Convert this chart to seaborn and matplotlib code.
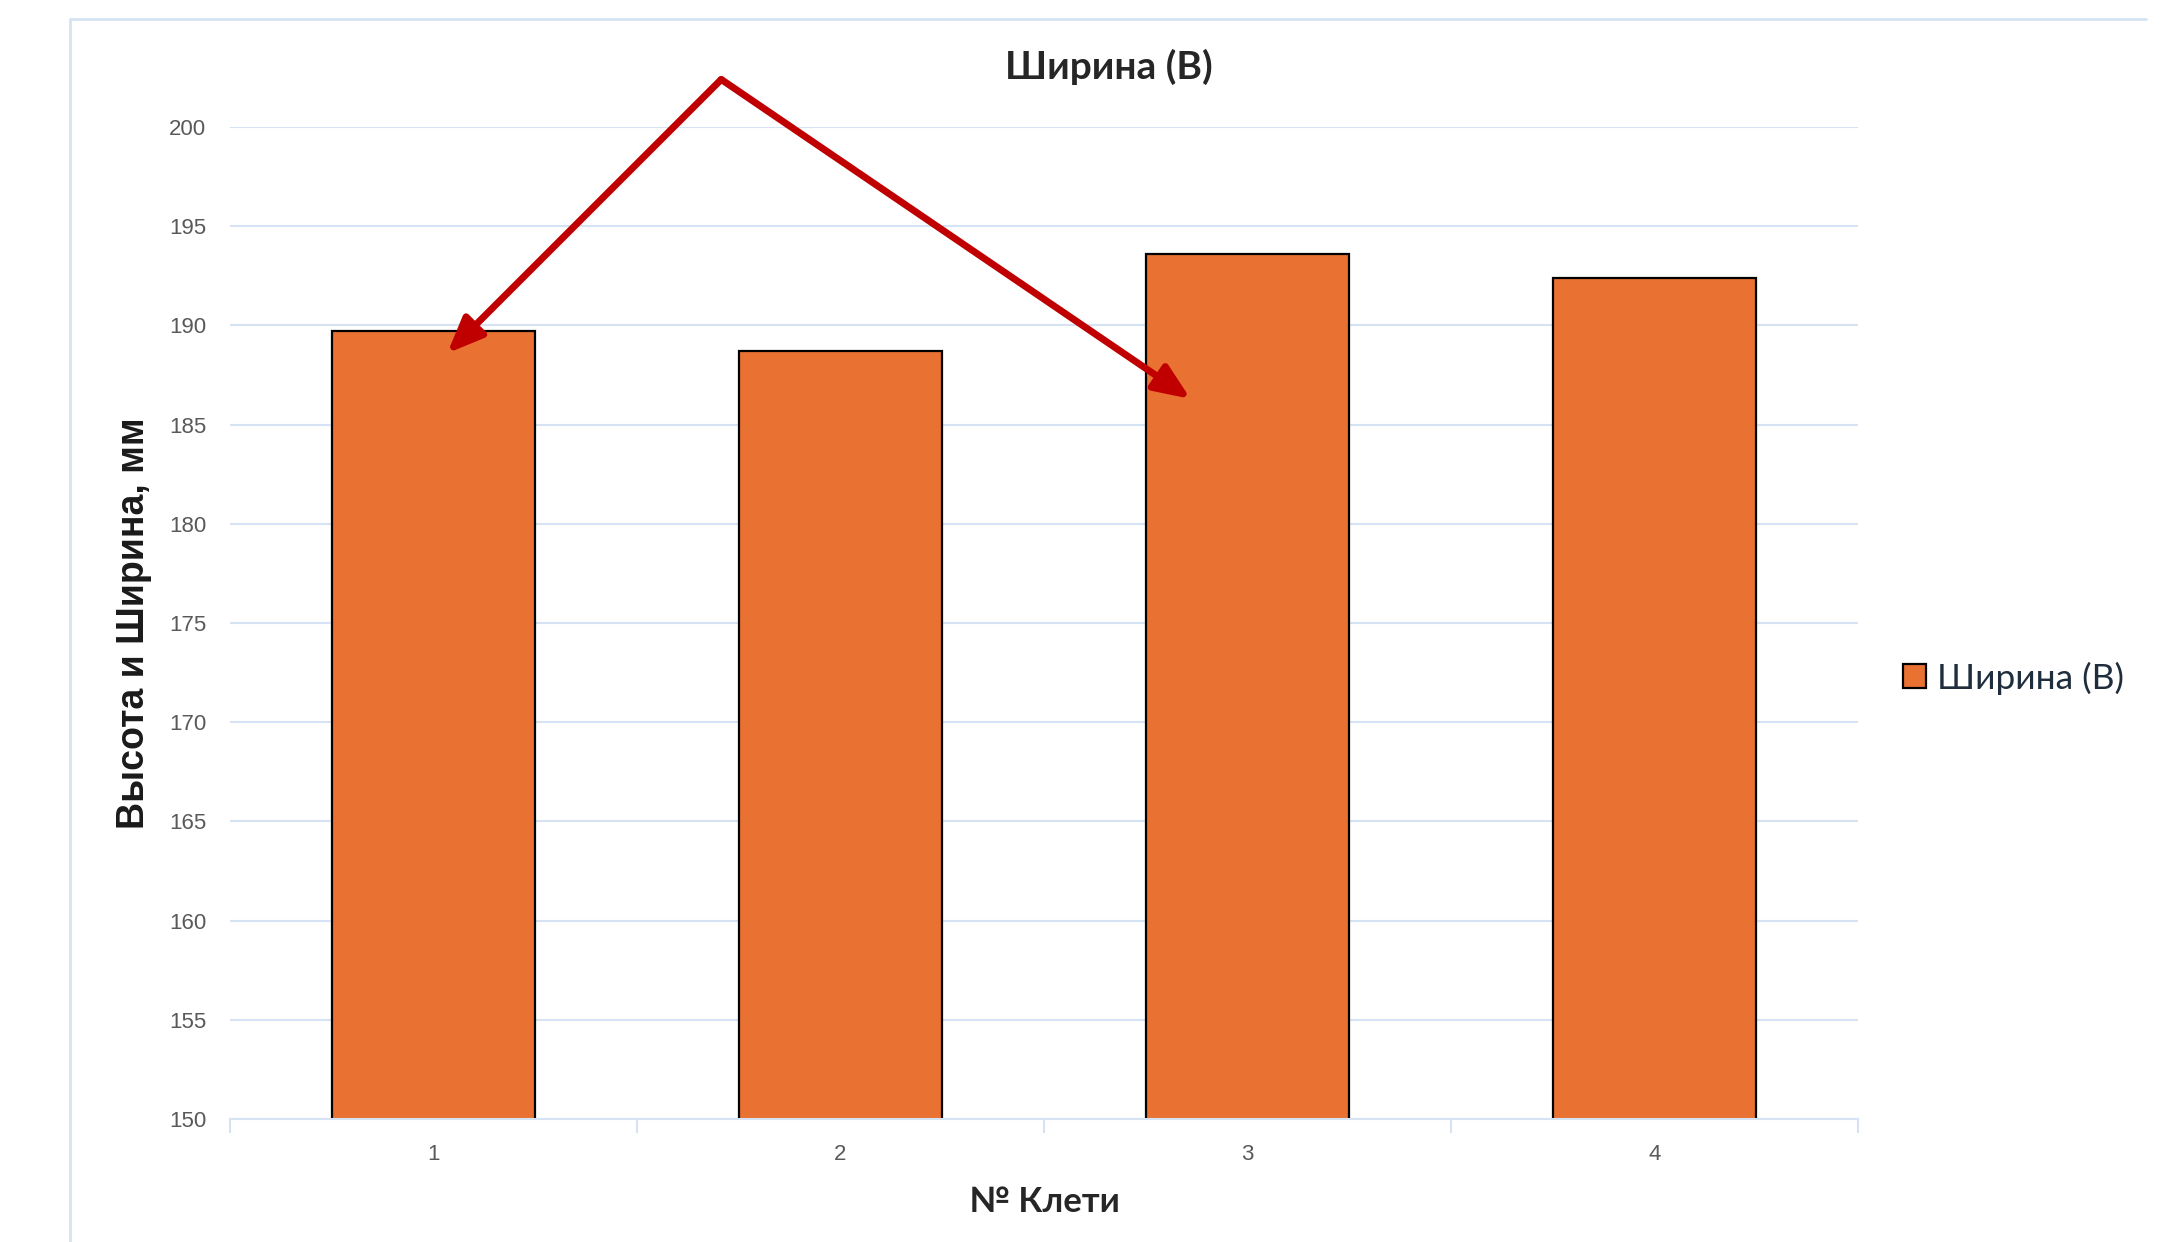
import matplotlib
matplotlib.use("Agg")
import matplotlib.pyplot as plt
from matplotlib.lines import Line2D
import seaborn as sns
import pandas as pd

# Data: strip width per rolling stand
cells = ["1", "2", "3", "4"]
widths = [189.7, 188.7, 193.6, 192.4]
y_ticks = [150, 155, 160, 165, 170, 175, 180, 185, 190, 195, 200]

title_text = "Ширина (В)"
x_label = "№ Клети"
y_label = "Высота и Ширина, мм"
legend_label = "Ширина (В)"

bar_color = "#E97132"
grid_color = "#D5E3F4"
arrow_color = "#C00000"

sns.set_theme(style="white")
plt.rcParams["font.family"] = ["Liberation Sans", "DejaVu Sans"]

df = pd.DataFrame({"cell": cells, "width": widths})

fig = plt.figure(figsize=(21.82, 12.42), dpi=100)
ax = fig.add_axes([0.1054, 0.099, 0.7461, 0.7987])

sns.barplot(data=df, x="cell", y="width", color=bar_color, saturation=1,
            edgecolor="black", linewidth=1.6, width=0.5, ax=ax)

ax.set_ylim(150, 200)
ax.set_xlim(-0.5, len(cells) - 0.5)
ax.set_yticks(y_ticks)
ax.set_yticklabels([str(t) for t in y_ticks], fontsize=16, color="#595959")
ax.yaxis.grid(True, color=grid_color, linewidth=1.5)
ax.set_axisbelow(True)
ax.tick_params(axis="y", length=0, pad=17)

# x ticks: labels at bar centres, short marks on category boundaries
ax.set_xticks(range(len(cells)))
ax.set_xticklabels(cells, fontsize=16, color="#595959")
ax.tick_params(axis="x", which="major", length=0, pad=18)
ax.set_xticks([i - 0.5 for i in range(len(cells) + 1)], minor=True)
ax.tick_params(axis="x", which="minor", length=10, width=1.5, color=grid_color,
               direction="out", bottom=True)

for side in ["top", "right", "left"]:
    ax.spines[side].set_visible(False)
ax.spines["bottom"].set_color(grid_color)
ax.spines["bottom"].set_linewidth(1.5)

ax.set_xlabel(x_label, fontsize=25, fontweight="bold", color="#262626",
              family=["Lato", "DejaVu Sans"], labelpad=15)
ax.set_ylabel(y_label, fontsize=27, fontweight="bold", color="#1a1a1a", labelpad=12)

fig.text(0.508, 0.946, title_text, ha="center", va="center", fontsize=28,
         fontweight="bold", color="#262626", family=["Lato", "DejaVu Sans"])

# Legend on the right, using a bar from the chart as its key
handle = ax.patches[0]
fig.legend([handle], [legend_label], loc="center left",
           bbox_to_anchor=(0.8575, 0.454), frameon=False,
           prop={"family": ["Lato", "DejaVu Sans"], "size": 25.5},
           labelcolor="#1f2d3d", handlelength=0.66, handleheight=0.66,
           handletextpad=0.3)

# Arrows from the apex down to stands 1 and 3
apex = (0.707, 202.4)
arrow_style = dict(arrowstyle="-|>,head_length=1.8,head_width=0.75",
                   color=arrow_color, linewidth=5, shrinkA=0, shrinkB=0)
ax.annotate("", xy=(0.034, 188.6), xytext=apex, annotation_clip=False,
            arrowprops=arrow_style)
ax.annotate("", xy=(1.86, 186.3), xytext=apex, annotation_clip=False,
            arrowprops=arrow_style)

# Chart-area frame (left and top edges)
fig.add_artist(Line2D([0.032, 0.032], [0.0, 0.9847], color=grid_color,
                      linewidth=2, transform=fig.transFigure))
fig.add_artist(Line2D([0.032, 0.9835], [0.9847, 0.9847], color=grid_color,
                      linewidth=2, transform=fig.transFigure))

fig.savefig("out.png", dpi=100, facecolor="white")
